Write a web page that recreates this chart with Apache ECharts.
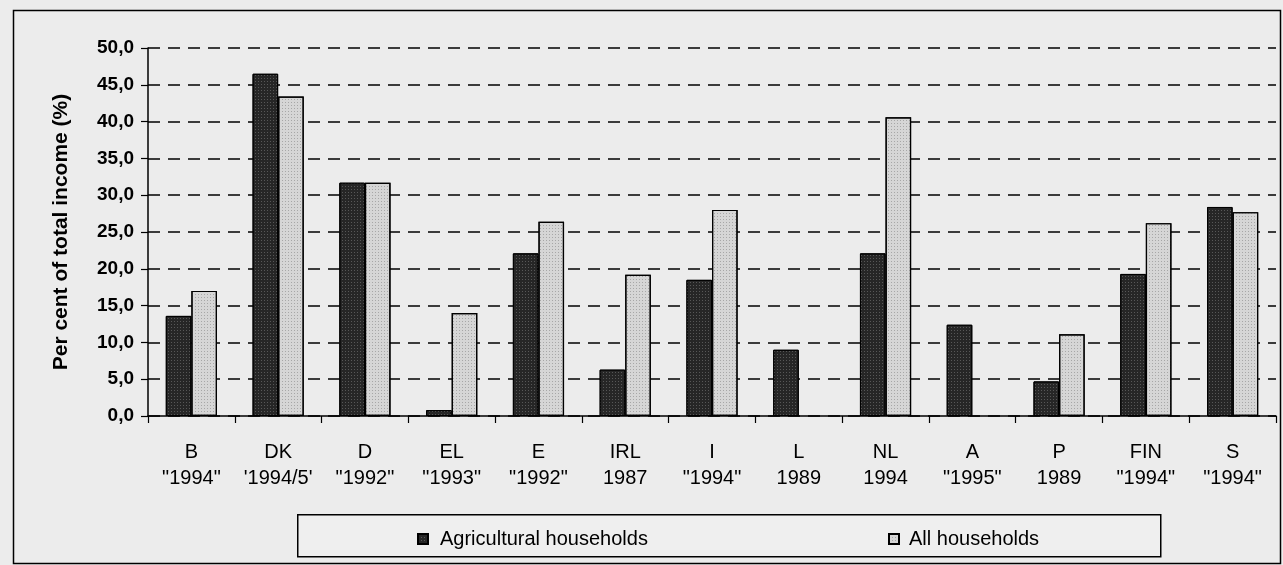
<!DOCTYPE html>
<html>
<head>
<meta charset="utf-8">
<script src="https://cdn.jsdelivr.net/npm/echarts@6/dist/echarts.min.js"></script>
<style>
  html, body { margin: 0; padding: 0; background: #fff; }
  #chart { width: 1283px; height: 565px; }
</style>
</head>
<body>
<div id="chart"></div>
<script>
// categories (country + reference year)
var countries = ['B', 'DK', 'D', 'EL', 'E', 'IRL', 'I', 'L', 'NL', 'A', 'P', 'FIN', 'S'];
var years = ['"1994"', "'1994/5'", '"1992"', '"1993"', '"1992"', '1987', '"1994"', '1989', '1994', '"1995"', '1989', '"1994"', '"1994"'];

// per cent of total income
var agricultural = [13.6, 46.5, 31.7, 0.8, 22.1, 6.3, 18.5, 9.0, 22.1, 12.4, 4.7, 19.3, 28.4];
var allHouseholds = [17.0, 43.4, 31.7, 14.0, 26.4, 19.2, 28.0, null, 40.6, null, 11.1, 26.2, 27.7];

var yTicks = { min: 0, max: 50, interval: 5 };

var categories = countries.map(function (c, i) { return c + '\n' + years[i]; });

var chart = echarts.init(document.getElementById('chart'), null, { renderer: 'canvas' });

var font = 'Liberation Sans, Arial, sans-serif';

var option = {
  backgroundColor: '#ececec',
  animation: false,
  grid: { left: 148, right: 7, top: 48, bottom: 149, containLabel: false },
  legend: [
    {
      left: 412, top: 524,
      itemWidth: 10, itemHeight: 10,
      icon: 'rect',
      textStyle: { fontFamily: font, fontSize: 20, color: '#000', padding: [0, 0, 0, 7] },
      data: ['Agricultural households']
    },
    {
      left: 883, top: 524,
      itemWidth: 10, itemHeight: 10,
      icon: 'rect',
      textStyle: { fontFamily: font, fontSize: 20, color: '#000', padding: [0, 0, 0, 5] },
      data: ['All households']
    }
  ],
  graphic: [
    // outer frame
    { type: 'rect', left: 11, top: 8, z: -1, silent: true,
      shape: { width: 1267, height: 553 },
      style: { fill: 'none', stroke: '#000', lineWidth: 1.5 } },
    // legend box
    { type: 'rect', left: 297, top: 514, z: -1, silent: true,
      shape: { width: 863, height: 42 },
      style: { fill: '#efefef', stroke: '#000', lineWidth: 1.5 } }
  ],
  xAxis: {
    type: 'category',
    data: categories,
    axisLine: { lineStyle: { color: '#000', width: 1.5 } },
    axisTick: { show: true, length: 7, lineStyle: { color: '#000', width: 1.2 } },
    axisLabel: {
      interval: 0, margin: 23, lineHeight: 26,
      fontFamily: font, fontSize: 20, color: '#000'
    }
  },
  yAxis: {
    type: 'value',
    min: yTicks.min, max: yTicks.max, interval: yTicks.interval,
    name: 'Per cent of total income (%)',
    nameLocation: 'middle',
    nameGap: 76,
    nameTextStyle: { fontFamily: font, fontSize: 21, fontWeight: 'bold', color: '#000' },
    axisLine: { show: true, lineStyle: { color: '#000', width: 1.5 } },
    axisTick: { show: true, length: 7, lineStyle: { color: '#000', width: 1.2 } },
    axisLabel: {
      margin: 14,
      fontFamily: font, fontSize: 19, fontWeight: 'bold', color: '#000',
      formatter: function (v) { return v.toFixed(1).replace('.', ','); }
    },
    splitLine: { show: true, lineStyle: { color: '#000', width: 1.5, type: [12, 8] } }
  },
  series: [
    {
      name: 'Agricultural households',
      type: 'bar',
      data: agricultural,
      barGap: '0%',
      barCategoryGap: '41%',
      itemStyle: {
        color: '#262626', borderColor: '#000', borderWidth: 1,
        decal: { symbol: 'rect', symbolSize: 1, color: 'rgba(120,120,120,0.6)', dashArrayX: [1, 2], dashArrayY: [1, 2] }
      }
    },
    {
      name: 'All households',
      type: 'bar',
      data: allHouseholds,
      itemStyle: {
        color: '#d6d6d6', borderColor: '#000', borderWidth: 1.2,
        decal: { symbol: 'rect', symbolSize: 1, color: 'rgba(110,110,110,0.45)', dashArrayX: [1, 2], dashArrayY: [1, 2] }
      }
    }
  ]
};

chart.setOption(option);
</script>
</body>
</html>
